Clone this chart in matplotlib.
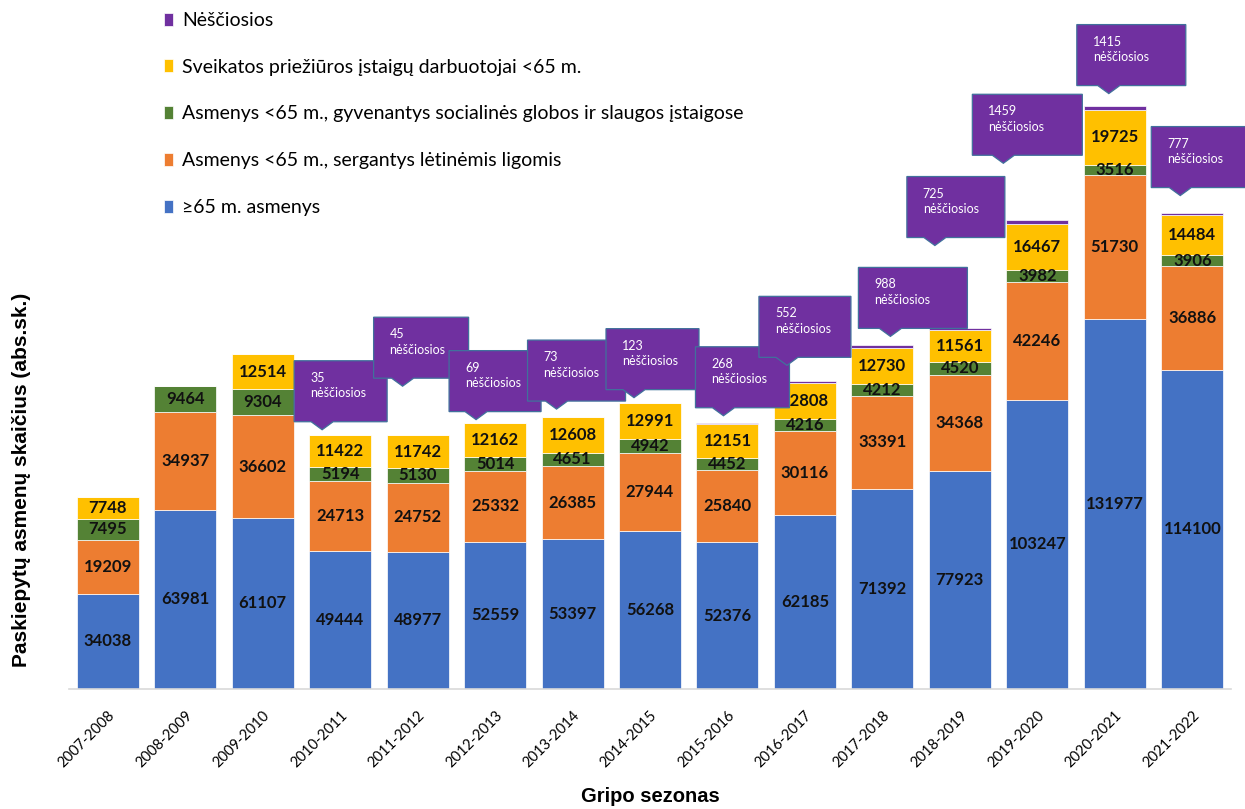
import matplotlib.pyplot as plt
import numpy as np
from matplotlib.patches import Polygon
from matplotlib.transforms import IdentityTransform

seasons = ['2007-2008', '2008-2009', '2009-2010', '2010-2011', '2011-2012',
           '2012-2013', '2013-2014', '2014-2015', '2015-2016', '2016-2017',
           '2017-2018', '2018-2019', '2019-2020', '2020-2021', '2021-2022']

seniors = [34038, 63981, 61107, 49444, 48977, 52559, 53397, 56268, 52376,
           62185, 71392, 77923, 103247, 131977, 114100]
chronic = [19209, 34937, 36602, 24713, 24752, 25332, 26385, 27944, 25840,
           30116, 33391, 34368, 42246, 51730, 36886]
care_homes = [7495, 9464, 9304, 5194, 5130, 5014, 4651, 4942, 4452,
              4216, 4212, 4520, 3982, 3516, 3906]
health_workers = [7748, 0, 12514, 11422, 11742, 12162, 12608, 12991, 12151,
                  12808, 12730, 11561, 16467, 19725, 14484]
pregnant = [0, 0, 0, 35, 45, 69, 73, 123, 268, 552, 988, 725, 1459, 1415, 777]

series_labels = ['≥65 m. asmenys',
                 'Asmenys <65 m., sergantys lėtinėmis ligomis',
                 'Asmenys <65 m., gyvenantys socialinės globos ir slaugos įstaigose',
                 'Sveikatos priežiūros įstaigų darbuotojai <65 m.',
                 'Nėščiosios']
colors = ['#4472C4', '#ED7D31', '#548235', '#FFC000', '#7030A0']

# callout layout (pixel offsets from the top of each bar that has pregnant women)
callout_dx = [-46, -44, -46, -45, -44, -32, -46, -24, -53, -65, -38, -41]
callout_lift = [13, 57, 11, 16, 13, 15, 24, 17, 90, 65, 20, 25]
callout_w = [93, 95, 92, 98, 93, 94, 92, 109, 98, 110, 109, 100]
callout_tip = [-18, -15, -19, -16, -16, -4, -18, 8, -25, -34, -6, -12]
callout_h = 61

plt.rcParams['font.family'] = ['Lato', 'DejaVu Sans']

W, H = 1245, 809
fig = plt.figure(figsize=(W / 100, H / 100), dpi=100)
ax = fig.add_axes([69 / W, (H - 689) / H, (1231 - 69) / W, (689 - 10) / H])

x = np.arange(len(seasons))
stack = [seniors, chronic, care_homes, health_workers, pregnant]
bottom = np.zeros(len(seasons))
handles = []
for k, (vals, lab, col) in enumerate(zip(stack, series_labels, colors)):
    vals = np.array(vals, dtype=float)
    b = ax.bar(x, vals, 0.8, bottom=bottom, color=col, edgecolor='white',
               linewidth=0.5, label=lab, zorder=2)
    handles.append(b)
    if k < 4:
        for i, v in enumerate(vals):
            if v > 0:
                ax.text(x[i], bottom[i] + v / 2, f'{int(v)}', ha='center',
                        va='center', fontsize=12, fontweight='bold',
                        color='#111111', zorder=3)
    bottom += vals

ax.set_xlim(-0.5, len(seasons) - 0.5)
ax.set_ylim(0, 679 / 0.0028)
ax.set_yticks([])
for s in ['left', 'right', 'top']:
    ax.spines[s].set_visible(False)
ax.spines['bottom'].set_color('#d9d9d9')
ax.spines['bottom'].set_linewidth(1.2)
ax.set_xticks(x)
ax.set_xticklabels(seasons, rotation=45, ha='right', rotation_mode='anchor',
                   fontsize=10.5)
ax.tick_params(axis='x', length=0, pad=14)

leg = ax.legend(handles[::-1], series_labels[::-1], loc='upper left',
                bbox_to_anchor=(164 / W, (H - 12) / H),
                bbox_transform=fig.transFigure, frameon=False, fontsize=14,
                labelspacing=1.53, handlelength=0.48, handleheight=0.65,
                handletextpad=0.45, borderpad=0, borderaxespad=0)

fig.text(22 / W, (H - 480) / H, 'Paskiepytų asmenų skaičius (abs.sk.)',
         rotation=90, ha='center', va='center', fontsize=15,
         fontweight='bold', family='Liberation Sans')
fig.text(650 / W, (H - 797) / H, 'Gripo sezonas', ha='center', va='center',
         fontsize=14.5, fontweight='bold', family='Liberation Sans')

# purple callouts for pregnant women
idx = [i for i, v in enumerate(pregnant) if v > 0]
for n, i in enumerate(idx):
    cx, cy = ax.transData.transform((x[i], bottom[i]))
    L = cx + callout_dx[n]
    R = L + callout_w[n]
    yb = cy + callout_lift[n]
    yt = yb + callout_h
    tx = cx + callout_tip[n]
    verts = [(L, yt), (R, yt), (R, yb), (tx + 11, yb), (tx, yb - 8),
             (tx - 11, yb), (L, yb)]
    poly = Polygon(verts, closed=True, facecolor='#7030A0',
                   edgecolor='#41719C', linewidth=0.9,
                   transform=IdentityTransform(), zorder=5)
    fig.add_artist(poly)
    fig.text(L + 16, yt - 11, f'{pregnant[i]}\nnėščiosios', ha='left',
             va='top', fontsize=9, color='white', linespacing=1.35,
             transform=IdentityTransform(), zorder=6)

plt.savefig('out.png', dpi=100)
